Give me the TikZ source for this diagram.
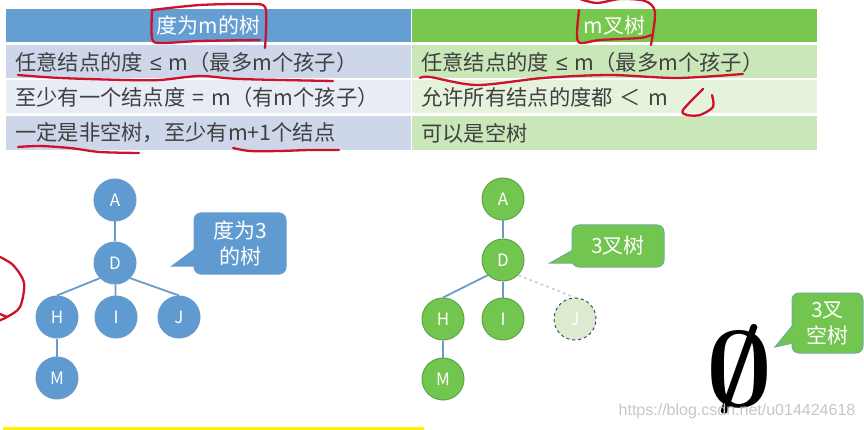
\documentclass[tikz,border=0pt]{standalone}
\usepackage{fontspec}
\usepackage{graphicx}
\setmainfont{Noto Sans CJK SC}
\newfontfamily\markfont{Liberation Sans}
\definecolor{bluehead}{HTML}{659FD2}
\definecolor{bluedark}{HTML}{CDD7E9}
\definecolor{bluelight}{HTML}{E8ECF5}
\definecolor{greenhead}{HTML}{78C850}
\definecolor{greendark}{HTML}{C9E7B9}
\definecolor{greenlight}{HTML}{E5F3DD}
\definecolor{ghostgreen}{HTML}{DCEBD0}
\definecolor{bluenode}{HTML}{5F9BD0}
\definecolor{blueline}{HTML}{6A9BCB}
\definecolor{greennode}{HTML}{72C54E}
\definecolor{greenedge}{HTML}{5FA648}
\definecolor{penred}{HTML}{D0112B}
\tikzset{
  headcell/.style={minimum width=405pt,minimum height=33pt,inner sep=0pt,text=white,font=\fontsize{21}{24}\selectfont},
  rowcell/.style={anchor=west,minimum width=405pt,inner sep=0pt,inner xsep=9pt,text width=387pt,text=black!75,font=\fontsize{21.3}{24}\selectfont},
  bluetree/.style={circle,minimum size=42pt,inner sep=0pt,fill=bluenode,draw=blueline,line width=1pt,text=white,font=\fontsize{17}{18}\selectfont},
  greentree/.style={bluetree,fill=greennode,draw=greenedge},
  ghosttree/.style={bluetree,fill=ghostgreen,draw=blueline!50!black,dashed,text=white},
  treeline/.style={draw=blueline,line width=1.8pt},
  ghostline/.style={draw=blueline!40,line width=1.8pt,dashed},
  bubble/.style={rounded corners=7pt,inner sep=0pt,line width=1pt,text=white,align=center,font=\fontsize{21}{26}\selectfont},
  redpen/.style={draw=penred,line width=2.3pt,line cap=round,line join=round},
}
\begin{document}
\begin{tikzpicture}[x=1pt,y=-1pt]
\clip(0,0)rectangle(864,430);
\fill[white](0,0)rectangle(864,430);
\node[headcell,fill=bluehead](lhead)at(208.5,25.5){度为m的树};
\node[headcell,fill=greenhead](rhead)at(614.5,25.5){m叉树};
\foreach \n/\y/\h/\c/\v in {1/62/33/bluedark/任意结点的度 {\markfont ≤} m（最多m个孩子）,2/97/33/bluelight/至少有一个结点度 = m（有m个孩子）,3/133/34/bluedark/一定是非空树，至少有m+1个结点}
  \node[rowcell,minimum height=\h pt,fill=\c](lrow\n)at(6,\y){\v};
\foreach \n/\y/\h/\c/\v in {1/62/33/greendark/任意结点的度 {\markfont ≤} m（最多m个孩子）,2/97/33/greenlight/允许所有结点的度都 ＜ m,3/133/34/greendark/可以是空树}
  \node[rowcell,minimum height=\h pt,fill=\c](rrow\n)at(412,\y){\v};
\foreach \v/\x/\y in {A/115/200,D/115/263,H/57/317,I/116/317,J/179/317,M/57/378}
  \node[bluetree](l\v)at(\x,\y){\v};
\foreach \v/\x/\y in {A/503/199,D/503/260,H/443/319,I/503/319,M/443/379}
  \node[greentree](r\v)at(\x,\y){\v};
\node[ghosttree](rJ)at(575,319){J};
\foreach \a/\b in {lA/lD,lD/lI,lH/lM,rA/rD,rD/rI,rH/rM}
  \draw[treeline](\a)--(\b);
\foreach \a/\b in {lD.225/lH.north,lD.-45/lJ.north,rD.225/rH.north}
  \draw[treeline](\a)--(\b);
\draw[ghostline](rD.-45)--(rJ.north);
\node[bubble,fill=bluenode,draw=blueline,minimum width=92pt,minimum height=61pt](lbub)at(240,243.5){度为3\\的树};
\draw[fill=bluenode,draw=blueline,line width=1pt](195,249)--(172,266)--(195,266);
\node[bubble,fill=greennode,draw=blueline!60!greennode,minimum width=92pt,minimum height=42pt](rbub)at(618,246){3叉树};
\draw[fill=greennode,draw=blueline!60!greennode,line width=1pt](573,250)--(550,263)--(573,263);
\node[bubble,fill=greennode,draw=blueline!60!greennode,minimum width=71pt,minimum height=60pt](ebub)at(827.5,323){3叉\\空树};
\draw[fill=greennode,draw=blueline!60!greennode,line width=1pt](793,325)--(775,347)--(793,343);
\node[inner sep=0pt](empty)at(740,369){\scalebox{11.5}[10.7]{\boldmath$\emptyset$}};
\node[text=black!22,inner sep=0pt,font=\markfont\fontsize{16}{18}\selectfont](mark)at(737,411){https://blog.csdn.net/u014424618};
\fill[yellow](3,427)rectangle(424,430);
\draw[redpen]plot[smooth]coordinates{(152,10)(200,5)(250,4)(265,7)(266,30)(265,48)};
\draw[redpen]plot[smooth]coordinates{(152,10)(152,38)(160,43)(200,41)(260,40)};
\draw[redpen]plot[smooth]coordinates{(18,75)(60,78)(125,80)(160,80)(200,76)(240,79)(333,81)};
\draw[redpen]plot[smooth]coordinates{(18,147)(40,146)(70,148)(100,152)(139,153)};
\draw[redpen]plot[smooth]coordinates{(233,148)(250,151)(280,151)(310,150)(339,150)};
\draw[redpen]plot[smooth]coordinates{(579,10)(577,33)(580,43)(600,40)(640,38)(651,35)};
\draw[redpen]plot[smooth]coordinates{(580,-1)(597,3)(620,-1)(645,1)(655,12)(651,45)};
\draw[redpen]plot[smooth]coordinates{(420,78)(430,77)(477,85)(543,78)(610,75)(677,78)(743,74)};
\draw[redpen]plot[smooth]coordinates{(703,89)(683,110)(687,115)(700,115)(713,107)(712,95)};
\draw[redpen]plot[smooth]coordinates{(-2,256)(13,265)(24,283)(20,307)(7,317)(-2,321)};
\draw[redpen](0,314)--(7,317);
\end{tikzpicture}
\end{document}
